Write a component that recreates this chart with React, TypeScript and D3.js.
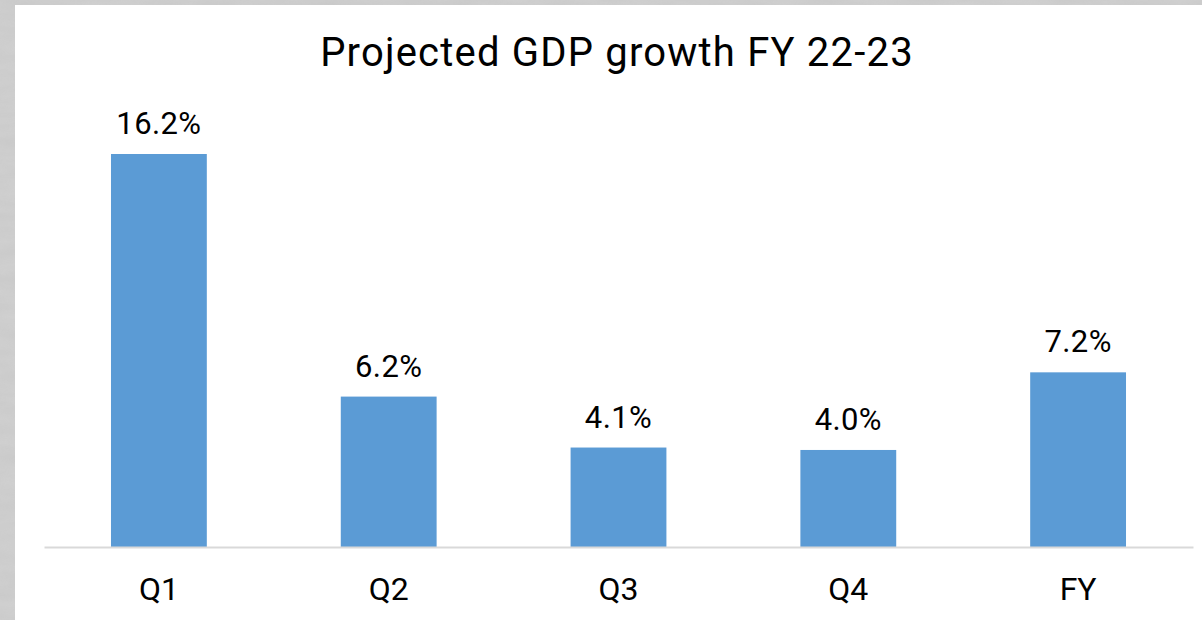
import { useRef, useEffect } from "react";
import * as d3 from "d3";

const categories = ["Q1", "Q2", "Q3", "Q4", "FY"];
const growth = [16.2, 6.2, 4.1, 4.0, 7.2];
const title = "Projected GDP growth FY 22-23";

export default function App() {
  const svgRef = useRef<SVGSVGElement>(null);

  useEffect(() => {
    if (!svgRef.current) return;
    const svg = d3.select(svgRef.current);
    svg.selectAll("*").remove();

    const W = 1202;
    const H = 620;
    svg.attr("viewBox", `0 0 ${W} ${H}`).attr("width", W).attr("height", H);

    // grey backdrop with a soft texture, white card on top
    const defs = svg.append("defs");
    const f = defs.append("filter").attr("id", "grain");
    f.append("feTurbulence")
      .attr("type", "fractalNoise")
      .attr("baseFrequency", "0.02 0.08")
      .attr("numOctaves", 3)
      .attr("seed", 4);
    f.append("feColorMatrix")
      .attr("type", "matrix")
      .attr(
        "values",
        "0 0 0 0 0.72  0 0 0 0 0.72  0 0 0 0 0.72  0 0 0 0.6 0",
      );

    svg.append("rect").attr("width", W).attr("height", H).attr("fill", "#c9c9c9");
    svg.append("rect").attr("width", W).attr("height", H).attr("filter", "url(#grain)").attr("opacity", 0.7);
    svg.append("rect").attr("x", 15).attr("y", 5).attr("width", W - 15).attr("height", H - 5).attr("fill", "#ffffff");

    const baseline = 547;
    const x = d3
      .scaleBand()
      .domain(categories)
      .range([44, 1193])
      .paddingInner(0.583)
      .paddingOuter(0.2915);

    const y = d3.scaleLinear().domain([0, 16.2]).range([baseline, 154]);

    const data = categories.map((c, i) => ({ cat: c, v: growth[i] }));

    svg.append("text")
      .attr("x", 617)
      .attr("y", 66)
      .attr("text-anchor", "middle")
      .attr("fill", "#000")
      .style("font-family", "Roboto")
      .style("font-size", "40px")
      .style("letter-spacing", "1.2px")
      .text(title);

    svg.selectAll(".bar")
      .data(data)
      .join("rect")
      .attr("class", "bar")
      .attr("x", (d) => x(d.cat)!)
      .attr("y", (d) => y(d.v))
      .attr("width", x.bandwidth())
      .attr("height", (d) => baseline - y(d.v))
      .attr("fill", "#5b9bd5");

    // category axis
    const axis = svg
      .append("g")
      .attr("transform", `translate(0,${baseline})`)
      .call(d3.axisBottom(x).tickSize(0).tickPadding(0));
    axis.select(".domain").attr("stroke", "#d9d9d9").attr("stroke-width", 2);
    axis.selectAll(".tick text")
      .attr("y", 53)
      .attr("dy", null)
      .attr("fill", "#000")
      .style("font-family", "Roboto")
      .style("font-size", "32px");

    svg.selectAll(".value-label")
      .data(data)
      .join("text")
      .attr("class", "value-label")
      .attr("x", (d) => x(d.cat)! + x.bandwidth() / 2)
      .attr("y", (d) => y(d.v) - 20)
      .attr("text-anchor", "middle")
      .attr("fill", "#000")
      .style("font-family", "Roboto")
      .style("font-size", "31px")
      .style("letter-spacing", "0.4px")
      .text((d) => `${d.v.toFixed(1)}%`);
  }, []);

  return (
    <svg
      ref={svgRef}
      style={{ position: "absolute", left: 0, top: 0, display: "block" }}
    />
  );
}
